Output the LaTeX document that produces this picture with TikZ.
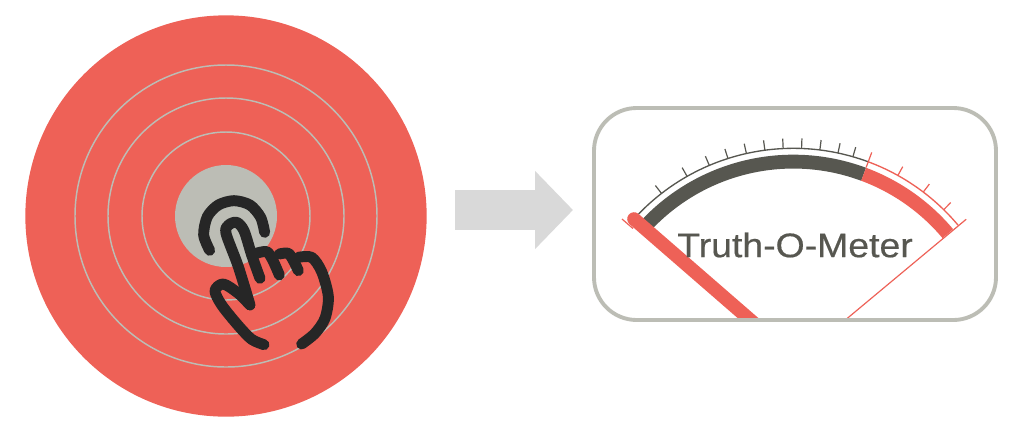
\documentclass[tikz,border=0pt]{standalone}
\usepackage{fontspec}
\newfontfamily\meterfont[FakeStretch=1.1, FakeBold=0.5]{Liberation Sans}
\usetikzlibrary{arrows.meta}
\definecolor{tomato}{HTML}{EE6157}
\definecolor{ash}{HTML}{BCBDB5}
\definecolor{slate}{HTML}{575750}
\definecolor{inkhand}{HTML}{262626}
\definecolor{block}{HTML}{D9D9D9}
\begin{document}
\begin{tikzpicture}[x=0.75pt, y=-0.75pt,
          ring/.style={draw=ash, line width=1.1pt},
          handline/.style={draw=inkhand, line width=8.2pt, line cap=round, line join=round},
          tick/.style={line width=0.9pt, slate},
          redtick/.style={line width=0.9pt, tomato}]
        \useasboundingbox (0,0) rectangle (1014,430);
        \fill[white] (0,0) rectangle (1014,430);
        \node[circle, fill=tomato, inner sep=0pt, minimum size=301pt] (target) at (226,216) {};
        \foreach \r in {84,118,151} \draw[ring] (target.center) circle (\r);
        \node[circle, fill=ash, inner sep=0pt, minimum size=76.5pt] (spot) at (target.center) {};
        % hand, in pixels of a 3x crop
        \begin{scope}[shift={(170,160)}, x=0.25pt, y=-0.25pt]
          \draw[handline] plot[smooth] coordinates {(119,271) (101,225) (112,170) (145,135) (192,122) (240,135) (272,172) (284,217)};
          \draw[handline] plot[smooth] coordinates {(240,435) (205,320) (168,220) (176,195) (200,187) (222,212) (245,285) (270,355)};
          \draw[handline] plot[smooth] coordinates {(258,280) (290,275) (308,300) (328,345)};
          \draw[handline] plot[smooth] coordinates {(328,282) (355,280) (372,305) (385,332)};
          \draw[handline] plot[smooth] coordinates {(385,292) (425,292) (455,335) (475,410) (465,475) (435,520) (395,552)};
          \draw[handline] plot[smooth] coordinates {(240,435) (205,400) (160,372) (135,392) (155,435) (205,497) (245,538) (282,554)};
        \end{scope}
        % meter frame
        \node[inner sep=0pt, minimum width=300pt, minimum height=157.5pt] (meter) at (795,214) {};
        \begin{scope}
          \clip (594,108) rectangle (996,320);
          \begin{scope}[shift={(793.3,363.3)}, y=0.75pt]
            \draw[line width=10.4pt, slate] (138:201.7) arc[start angle=138, end angle=69.6, radius=201.7];
            \draw[line width=10.4pt, tomato] (69.6:201.7) arc[start angle=69.6, end angle=40, radius=201.7];
            \draw[line width=1pt, slate] (136:215) arc[start angle=136, end angle=69.6, radius=215];
            \draw[line width=1pt, tomato] (69.6:215) arc[start angle=69.6, end angle=40, radius=215];
            \foreach \a in {73.9,78,82.9,87.8,92.7,97.6,102.6,107.7,113,119.6,127.8} \draw[tick] (\a:215) -- (\a:225);
            \foreach \a in {45.6,52.8,60.9} \draw[redtick] (\a:215) -- (\a:225);
            \draw[redtick] (69.6:209) -- (69.6:225);
            \draw[redtick] (39.8:20) -- (39.8:225);
          \end{scope}
          \draw[redtick] (622,219) -- (633,228.5);
          \draw[line width=10.2pt, tomato, line cap=round] (634,219) -- (771,338);
        \end{scope}
        \draw[draw=ash, line width=2.9pt, rounded corners=32pt] (594,108) rectangle (996,320);
        \node[font=\meterfont\fontsize{25.5pt}{28pt}\selectfont, text=slate, inner sep=0pt] (title) at (795,245) {Truth-O-Meter};
        % block arrow
        \coordinate (arrowtail) at (455,210);
        \coordinate (arrowhead) at (573,210);
        \draw[line width=30pt, block, -{Triangle[length=28.5pt, width=57pt]}] (arrowtail) -- (arrowhead);
      \end{tikzpicture}
\end{document}
